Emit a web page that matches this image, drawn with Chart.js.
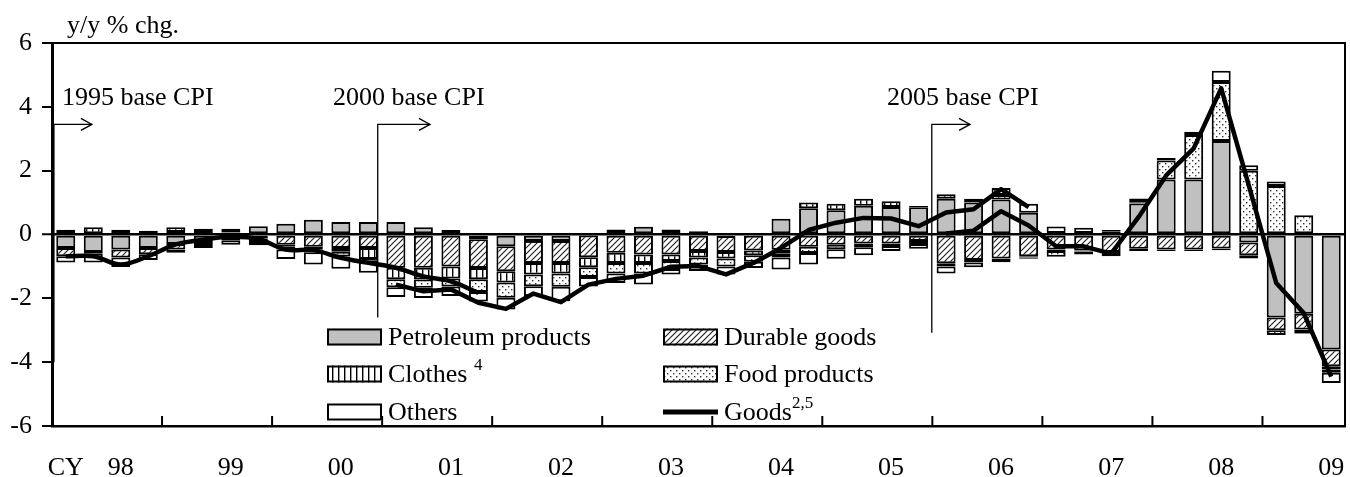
<!DOCTYPE html>
<html><head><meta charset="utf-8">
<script src="https://cdn.jsdelivr.net/npm/chart.js@4/dist/chart.umd.min.js"></script>
<style>html,body{margin:0;padding:0;background:#fff}</style>
</head><body>
<canvas id="c" width="1350" height="477"></canvas>
<script>
// ---------- data ----------
const quarters = ['98Q1','98Q2','98Q3','98Q4','99Q1','99Q2','99Q3','99Q4','00Q1','00Q2','00Q3','00Q4',
  '01Q1','01Q2','01Q3','01Q4','02Q1','02Q2','02Q3','02Q4','03Q1','03Q2','03Q3','03Q4',
  '04Q1','04Q2','04Q3','04Q4','05Q1','05Q2','05Q3','05Q4','06Q1','06Q2','06Q3','06Q4',
  '07Q1','07Q2','07Q3','07Q4','08Q1','08Q2','08Q3','08Q4','09Q1','09Q2','09Q3'];
const tickLabels = ['CY','','98','','','','99','','','','00','','','','01','','','','02','','','','03','',
  '','','04','','','','05','','','','06','','','','07','','','','08','','','','09'];
const yTicks = [-6,-4,-2,0,2,4,6];

const petroleum = [-0.42,-0.55,-0.47,-0.42,-0.3,-0.2,-0.1,0.26,0.34,0.46,0.39,0.39,0.39,0.23,0.14,-0.15,-0.37,-0.2,-0.2,-0.03,
  0.16,0.24,0.16,0.1,-0.05,0.05,0.49,0.82,0.76,0.9,0.86,0.85,1.12,1.0,1.1,0.68,0.05,0.05,0.1,0.97,1.72,1.72,2.93,-0.25,-2.6,-2.48,-3.6];
const durable = [-0.26,-0.05,-0.25,-0.2,-0.17,-0.1,-0.08,-0.12,-0.32,-0.38,-0.42,-0.42,-1.04,-1.04,-1.0,-0.9,-0.78,-0.69,-0.69,-0.68,
  -0.57,-0.63,-0.63,-0.52,-0.5,-0.5,-0.48,-0.38,-0.32,-0.28,-0.28,-0.2,-0.9,-0.8,-0.75,-0.68,-0.47,-0.5,-0.55,-0.45,-0.47,-0.47,-0.44,-0.4,-0.4,-0.5,-0.53];
const clothes = [0.15,0.23,0.15,0.12,0.08,0.08,0.06,-0.05,-0.05,-0.08,-0.12,-0.35,-0.36,-0.37,-0.38,-0.35,-0.35,-0.36,-0.33,-0.32,
  -0.32,-0.26,-0.2,-0.2,-0.2,-0.15,-0.12,0.18,0.2,0.22,0.18,0.04,0.14,0.12,0.14,-0.04,-0.05,-0.03,-0.03,-0.07,-0.05,-0.05,-0.05,-0.1,-0.15,-0.12,-0.1];
const food = [0,0,0,0,0.15,0.1,0.12,-0.1,-0.1,-0.1,-0.15,-0.05,-0.25,-0.26,-0.25,-0.4,-0.48,-0.37,-0.42,-0.3,
  -0.33,-0.33,-0.25,-0.22,-0.25,-0.2,-0.12,-0.2,-0.14,-0.12,-0.08,-0.1,-0.1,-0.08,0.22,-0.04,-0.18,-0.1,-0.1,0.04,0.6,1.4,1.85,2.0,1.52,0.6,-0.1];
const others = [-0.2,-0.28,-0.3,-0.18,-0.1,-0.12,-0.14,-0.07,-0.3,-0.38,-0.38,-0.38,-0.31,-0.32,-0.3,-0.3,-0.37,-0.31,-0.45,-0.3,
  -0.3,-0.35,-0.17,-0.2,-0.25,-0.2,-0.38,-0.36,-0.3,-0.25,-0.16,-0.15,-0.22,-0.15,-0.12,0.28,0.2,0.16,0.04,0.12,0.08,0.1,0.35,0.17,0.14,-0.02,-0.32];

// Goods (total) on the 1995, 2000 and 2005 base CPI
const goods1995 = [-0.68,-0.68,-0.94,-0.68,-0.31,-0.16,-0.07,-0.14,-0.47,-0.49,-0.73,-0.89,-1.04,-1.31,-1.47,-1.83,
  null,null,null,null,null,null,null,null,null,null,null,null,null,null,null,null,null,null,null,null,null,null,null,null,null,null,null,null,null,null,null];
const goods2000 = [null,null,null,null,null,null,null,null,null,null,null,null,
  -1.57,-1.78,-1.72,-2.14,-2.33,-1.85,-2.12,-1.57,-1.39,-1.29,-1.01,-0.99,-1.25,-0.89,-0.42,0.14,0.37,0.52,0.5,0.26,0.69,0.79,1.42,0.86,
  null,null,null,null,null,null,null,null,null,null,null];
const goods2005 = [null,null,null,null,null,null,null,null,null,null,null,null,null,null,null,null,
  null,null,null,null,null,null,null,null,null,null,null,null,null,null,null,null,
  0.03,0.12,0.73,0.28,-0.37,-0.37,-0.6,0.55,1.85,2.7,4.58,1.55,-1.52,-2.46,-4.45];

// ---------- styles / layout ----------
const FONT = 'Liberation Serif';
const baseMarks = [
  {text:'1995 base CPI', lineX:-0.43, bottom:-4.0,  arrowTo:0.95,  textX:-0.14},
  {text:'2000 base CPI', lineX:11.34, bottom:-2.6,  arrowTo:13.24, textX:9.71},
  {text:'2005 base CPI', lineX:31.48, bottom:-3.08, arrowTo:32.87, textX:29.85}
];
const markTop = 3.45, markTextY = 4.26;
const legendLayout = {cols:[327,663], rows:[337,374,412], w:55, h:17, gap:6};

function makePattern(kind){
  const s = 6, c = document.createElement('canvas'); c.width = s; c.height = s;
  const g = c.getContext('2d'); g.fillStyle = '#fff'; g.fillRect(0,0,s,s);
  if (kind === 'diag') {
    g.strokeStyle = '#222'; g.lineWidth = 1.2; g.beginPath();
    g.moveTo(-1,s+1); g.lineTo(s+1,-1); g.moveTo(-1,1); g.lineTo(1,-1); g.moveTo(s-1,s+1); g.lineTo(s+1,s-1);
    g.stroke();
  } else if (kind === 'vert') {
    g.fillStyle = '#000'; g.fillRect(2,0,1.4,s);
  } else if (kind === 'dots') {
    g.fillStyle = '#333'; g.fillRect(1,1,1.4,1.4); g.fillRect(4,4,1.4,1.4);
  }
  return g.createPattern(c,'repeat');
}
const fills = {pet:'#c0c0c0', dur:makePattern('diag'), clo:makePattern('vert'), food:makePattern('dots'), oth:'#ffffff'};

function barSet(label, data, bg){
  return {type:'bar', label, data, backgroundColor:bg, borderColor:'#000', borderWidth:2, borderSkipped:false,
    stack:'bars', order:2, categoryPercentage:1, barPercentage:0.69};
}
function lineSet(data, stack, tension){
  return {type:'line', label:'Goods', data, borderColor:'#000', borderWidth:4.5, pointRadius:0, pointHoverRadius:0,
    tension, spanGaps:false, fill:false, stack, order:0, borderCapStyle:'butt', borderJoinStyle:'round'};
}

const decor = {
  id:'decor',
  afterDatasetsDraw(chart){
    const {ctx, chartArea:a, scales:{x, y}} = chart;
    const step = x.getPixelForValue(1) - x.getPixelForValue(0);
    const px = i => x.getPixelForValue(0) + i*step;
    ctx.save();
    ctx.strokeStyle = '#000'; ctx.fillStyle = '#000';
    // frame top + right
    ctx.lineWidth = 2;
    ctx.beginPath(); ctx.moveTo(a.left, a.top); ctx.lineTo(a.right, a.top); ctx.lineTo(a.right, a.bottom); ctx.stroke();
    // year boundary ticks (inward)
    quarters.forEach((q, i) => {
      if (i > 0 && q.endsWith('Q1')) {
        const xp = (px(i-1) + px(i)) / 2;
        ctx.beginPath(); ctx.moveTo(xp, a.bottom); ctx.lineTo(xp, a.bottom - 10); ctx.stroke();
      }
    });
    // base-change markers
    ctx.font = '26px "' + FONT + '"'; ctx.textBaseline = 'middle'; ctx.textAlign = 'left';
    baseMarks.forEach(m => {
      const x0 = px(m.lineX), yb = y.getPixelForValue(m.bottom), yt = y.getPixelForValue(markTop), x1 = px(m.arrowTo);
      ctx.lineWidth = 1.3;
      ctx.beginPath(); ctx.moveTo(x0, yb); ctx.lineTo(x0, yt); ctx.lineTo(x1, yt); ctx.stroke();
      ctx.beginPath(); ctx.moveTo(x1 - 11, yt - 6); ctx.lineTo(x1, yt); ctx.lineTo(x1 - 11, yt + 6); ctx.stroke();
      ctx.fillText(m.text, px(m.textX), y.getPixelForValue(markTextY));
    });
    // axis unit
    ctx.fillText('y/y % chg.', a.left + 15, a.top - 17);
    // legend
    const items = [
      {ds:0, text:'Petroleum products', sup:''},
      {ds:1, text:'Durable goods', sup:''},
      {ds:2, text:'Clothes ', sup:'4'},
      {ds:3, text:'Food products', sup:''},
      {ds:4, text:'Others', sup:''},
      {ds:5, text:'Goods', sup:'2,5', line:true}
    ];
    const L = legendLayout;
    items.forEach((it, k) => {
      const lx = L.cols[k % 2], cy = L.rows[Math.floor(k / 2)];
      const d = chart.data.datasets[it.ds];
      if (it.line) {
        ctx.lineWidth = 5; ctx.beginPath(); ctx.moveTo(lx, cy); ctx.lineTo(lx + L.w, cy); ctx.stroke();
      } else {
        ctx.fillStyle = d.backgroundColor; ctx.fillRect(lx, cy - L.h/2, L.w, L.h);
        ctx.lineWidth = 2; ctx.strokeRect(lx + 1, cy - L.h/2 + 1, L.w - 2, L.h - 2);
      }
      ctx.fillStyle = '#000';
      ctx.font = '26px "' + FONT + '"'; ctx.textBaseline = 'middle';
      const tx = lx + L.w + L.gap;
      ctx.fillText(it.text, tx, cy + 1);
      if (it.sup) {
        const w = ctx.measureText(it.text).width;
        ctx.font = '17px "' + FONT + '"';
        ctx.fillText(it.sup, tx + w, cy - 8);
      }
    });
    ctx.restore();
  }
};

Chart.defaults.font.family = FONT;
Chart.defaults.font.size = 26;
Chart.defaults.color = '#000';

new Chart(document.getElementById('c'), {
  type:'bar',
  data:{
    labels: quarters,
    datasets:[
      barSet('Petroleum products', petroleum, fills.pet),
      barSet('Durable goods', durable, fills.dur),
      barSet('Clothes', clothes, fills.clo),
      barSet('Food products', food, fills.food),
      barSet('Others', others, fills.oth),
      lineSet(goods1995, 'g95', 0.35),
      lineSet(goods2000, 'g00', 0),
      lineSet(goods2005, 'g05', 0)
    ]
  },
  options:{
    responsive:false, animation:false, devicePixelRatio:1,
    layout:{padding:{top:43, right:5, left:0, bottom:0}},
    plugins:{legend:{display:false}, tooltip:{enabled:false}, title:{display:false}},
    scales:{
      x:{
        stacked:true, offset:true,
        grid:{display:true, drawOnChartArea:false, drawTicks:true, tickLength:27, tickColor:'rgba(0,0,0,0)', color:'rgba(0,0,0,0)'},
        border:{display:true, color:'#000', width:2.5},
        ticks:{autoSkip:false, maxRotation:0, minRotation:0, padding:0, callback:(v, i) => tickLabels[i]},
        afterFit: s => { s.height = 51; }
      },
      y:{
        stacked:true, min:-6, max:6,
        afterBuildTicks: s => { s.ticks = yTicks.map(v => ({value:v})); },
        ticks:{padding:10},
        grid:{
          drawOnChartArea:true, drawTicks:true, tickLength:10, tickWidth:2, tickColor:'#000',
          color: c => (c.tick && c.tick.value === 0) ? '#000' : 'rgba(0,0,0,0)',
          lineWidth: c => (c.tick && c.tick.value === 0) ? 2.5 : 0
        },
        border:{display:true, color:'#000', width:3},
        afterFit: s => { s.width = 52; }
      }
    }
  },
  plugins:[decor]
});
</script>
</body></html>
